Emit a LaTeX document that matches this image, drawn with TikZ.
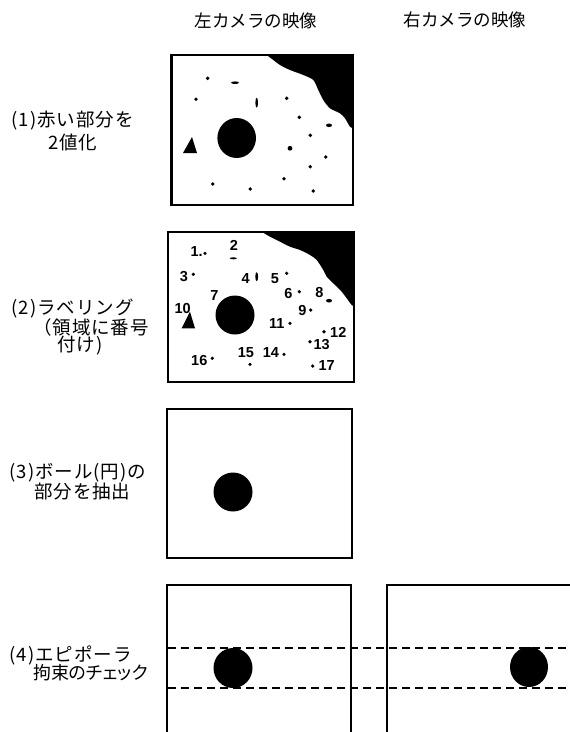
\documentclass[tikz,border=0pt]{standalone}
\usepackage{fontspec}
\newfontfamily\jp[AutoFakeBold=0.6]{Noto Sans CJK JP}
\newfontfamily\jpl[LetterSpace=5]{Noto Sans CJK JP}
\newfontfamily\jpp[RawFeature=+palt]{Noto Sans CJK JP}
\newfontfamily\numf{Liberation Sans}
\newcommand{\pn}[1]{(\hspace{1.5pt}#1\hspace{1.5pt})\hspace{0.5pt}}
\begin{document}
\begin{tikzpicture}[x=1pt,y=-1pt,
  frame/.style={line width=2.6pt},
  epi/.style={line width=1.6pt,dash pattern=on 8pt off 5pt},
  hdr/.style={font=\jp\fontsize{17.5}{19}\selectfont,inner sep=0pt},
  lab/.style={font=\jpl\fontsize{18.5}{20}\selectfont,inner sep=0pt,anchor=west},
  num/.style={font=\numf\bfseries\fontsize{14.5}{15}\selectfont,inner sep=0pt}]
\useasboundingbox (0,0) rectangle (570,732);
% headers
\node[hdr] (hl) at (256,21) {左カメラの映像};
\node[hdr] (hr) at (465,20) {右カメラの映像};
% left labels
\node[lab] (l1a) at (11,121) {\pn{1}赤い部分を};
\node[lab] (l1b) at (48,142) {2値化};
\node[lab] (l2a) at (11,309) {\pn{2}ラベリング};
\node[lab] (l2b) at (33,327) {（領域に番号};
\node[lab] (l2c) at (57,346) {付け)};
\node[lab] (l3a) at (9,473) {\pn{3}ボール(円)の};
\node[lab] (l3b) at (34,492) {部分を抽出};
\node[lab] (l4a) at (9,655) {\pn{4}エピポーラ};
\node[lab,font=\jpp\fontsize{18}{20}\selectfont] (l4b) at (33,673) {拘束のチェック};
% ---- box 1
\fill plot[smooth] coordinates {(266.7,55) (273.3,60) (280,65) (290,70) (303.3,75) (313.3,80) (318.3,90) (323.3,100) (330,108.3) (340,113.3) (345,118.3) (350,126.7) (353,128)} -- (353,55) -- cycle;
\fill (236.7,138) ellipse [x radius=19.3, y radius=20];
\fill (183,153) -- (197,153) -- (192,137) -- cycle;
\foreach \p in {(207.7,78.3),(196,99.3),(286.7,98.3),(299.3,117.3),(310.3,135.3),(325.7,157),(310.3,166.7),(284,178.7),(212.7,184),(250.3,189),(313.3,191)}
  \fill \p circle[radius=1.9];
\fill (290,148.3) circle[radius=2.4];
\fill (235,82.7) ellipse[x radius=4, y radius=1.3];
\fill (256.7,102.7) ellipse[x radius=1.3, y radius=5];
\fill (329,125.3) ellipse[x radius=3, y radius=1.8];
\draw[frame] (171.5,55) rectangle (353,205);
% ---- box 2
\fill plot[smooth] coordinates {(263.3,232.7) (270,236.7) (280,241.7) (290,246.7) (300,250) (310,255) (316.7,260) (323.3,270) (326.7,276.7) (333.3,283.3) (341.7,291.7) (346.7,298.3) (351.7,305) (354,306)} -- (354,232) -- cycle;
\fill (235,315) circle[radius=19.5];
\fill (181.7,328.3) -- (195,328.3) -- (190,311.7) -- cycle;
\foreach \p in {(205,253.3),(193.3,274.3),(286.7,273.3),(299.3,291.7),(310.7,310),(290,323.3),(324,331.7),(310,341.7),(284,354.3),(250,364.3),(212.3,358.3),(312.7,366)}
  \fill \p circle[radius=1.8];
\fill (233.3,258.3) ellipse[x radius=3.5, y radius=1];
\fill (256.7,276.7) ellipse[x radius=1.4, y radius=4.5];
\fill (329,300.7) ellipse[x radius=3, y radius=1.8];
\node[num] (n1) at (196.7,251.7) {1.};
\node[num] (n2) at (234,245) {2};
\node[num] (n3) at (184,276.7) {3};
\node[num] (n4) at (245.7,278.3) {4};
\node[num] (n5) at (275,278.3) {5};
\node[num] (n6) at (288.3,293.3) {6};
\node[num] (n7) at (214.3,296) {7};
\node[num] (n8) at (319.3,292.7) {8};
\node[num] (n9) at (302.3,310.7) {9};
\node[num] (n10) at (182.7,308.3) {10};
\node[num] (n11) at (276.7,323.3) {11};
\node[num] (n12) at (338.3,332.3) {12};
\node[num] (n13) at (321.7,345) {13};
\node[num] (n14) at (271,352.7) {14};
\node[num] (n15) at (246,352.7) {15};
\node[num] (n16) at (199.3,360.7) {16};
\node[num] (n17) at (326.7,366) {17};
\draw[frame] (168,232) rectangle (354,382);
% ---- box 3
\fill (233,492) circle[radius=19.5];
\draw[frame] (167,409) rectangle (352,558);
% ---- box 4
\coordinate (e1a) at (168,648);
\coordinate (e1b) at (570,648);
\coordinate (e2a) at (168,688);
\coordinate (e2b) at (570,688);
\fill (233,668) ellipse[x radius=19.5, y radius=20];
\fill (529,667) ellipse[x radius=19, y radius=20];
\draw[epi] (e1a) -- (e1b);
\draw[epi] (e2a) -- (e2b);
\draw[frame] (167,735) -- (167,585) -- (351,585) -- (351,735);
\draw[frame] (387,735) -- (387,585) -- (572,585);
\end{tikzpicture}
\end{document}
